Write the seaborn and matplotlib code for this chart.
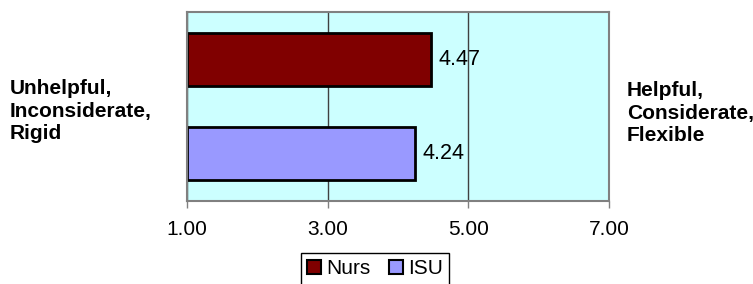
import matplotlib
matplotlib.use("Agg")
import matplotlib.pyplot as plt
from matplotlib.patches import Patch
import seaborn as sns
import pandas as pd

groups = ["Nurs", "ISU"]
values = [4.47, 4.24]
colors = ["#800000", "#9999FF"]
xticks = [1, 3, 5, 7]
left_label = "Unhelpful,\nInconsiderate,\nRigid"
right_label = "Helpful,\nConsiderate,\nFlexible"

sns.set_theme(style="white")
plt.rcParams["font.family"] = ["Liberation Sans", "DejaVu Sans"]
plt.rcParams["text.color"] = "black"
plt.rcParams["xtick.color"] = "black"

df = pd.DataFrame({"group": groups, "value": values})

fig = plt.figure(figsize=(7.53, 2.84), dpi=100)
ax = fig.add_axes([187/753, 1-201/284, (609-187)/753, (201-12)/284])
ax.set_facecolor("#CCFFFF")

sns.barplot(data=df, x="value", y="group", hue="group", order=groups,
            hue_order=groups, palette=colors, orient="h", width=0.56,
            edgecolor="black", linewidth=2, saturation=1, legend=False, ax=ax)

# bars start at the axis minimum (1.00)
for p in ax.patches:
    yc = p.get_y() + p.get_height() / 2
    idx = int(round(yc))
    p.set_x(xticks[0])
    p.set_width(values[idx] - xticks[0])
    p.set_zorder(3)

for i, v in enumerate(values):
    ax.annotate(f"{v:.2f}", xy=(v, i), xytext=(5.5, 0), textcoords="offset points",
                va="center", ha="left", fontsize=15.5, color="black", zorder=4)

ax.set_xlim(xticks[0], xticks[-1])
ax.set_ylim(1.5, -0.5)
ax.set_xticks(xticks)
ax.set_xticklabels([f"{t:.2f}" for t in xticks], fontsize=15, color="black")
ax.set_yticks([])
ax.set_xlabel("")
ax.set_ylabel("")
ax.xaxis.grid(True, color="#404040", linewidth=1, zorder=1)
ax.set_axisbelow(True)
ax.tick_params(axis="x", which="both", bottom=True, direction="out", length=5,
               width=1, color="#808080", labelcolor="black", pad=9)
for s in ax.spines.values():
    s.set_visible(True)
    s.set_color("#808080")
    s.set_linewidth(1.5)
    s.set_zorder(5)

fig.text(10/753, 1-111/284, left_label, ha="left", va="center", fontsize=15,
         fontweight="bold", linespacing=1.26, color="black")
fig.text(627/753, 1-113/284, right_label, ha="left", va="center", fontsize=15,
         fontweight="bold", linespacing=1.26, color="black")

handles = [Patch(facecolor=c, edgecolor="black", linewidth=1.5) for c in colors]
leg = fig.legend(handles, groups, loc="upper center", bbox_to_anchor=(375/753, 1-253/284),
                 ncol=2, fontsize=15, frameon=True, fancybox=False, framealpha=1,
                 edgecolor="black", handlelength=0.7, handleheight=0.7,
                 handletextpad=0.25, columnspacing=0.85, borderpad=0.3,
                 borderaxespad=0)
leg.get_frame().set_linewidth(1)
for t in leg.get_texts():
    t.set_color("black")

fig.savefig("out.png", dpi=100)
